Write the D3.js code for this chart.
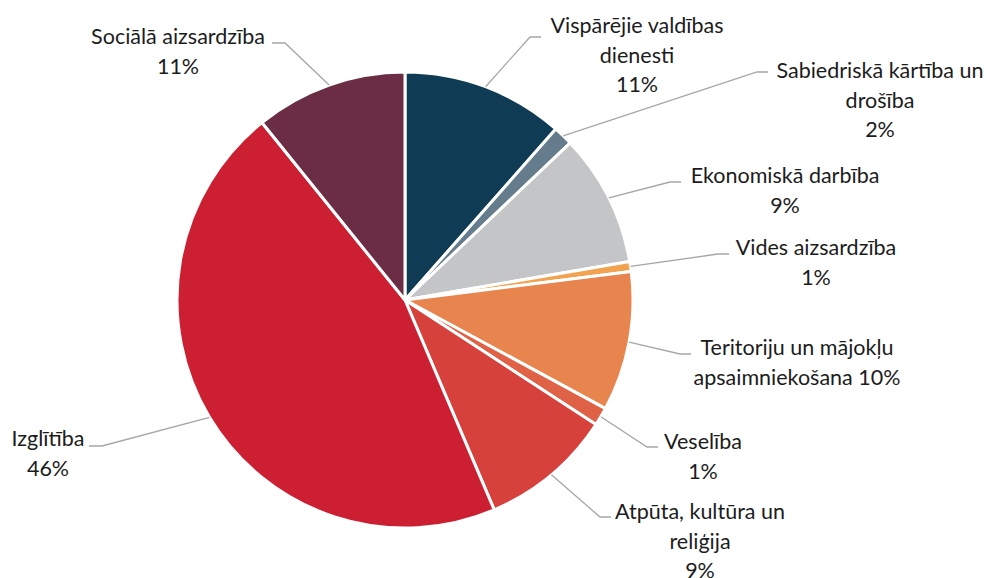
<!DOCTYPE html>
<html>
<head>
<meta charset="utf-8">
<script src="https://cdn.jsdelivr.net/npm/d3@7"></script>
<style>
  body { margin: 0; background: #fff; }
  svg { display: block; }
  .lbl { font-family: Lato, "Open Sans", sans-serif; font-size: 21.5px; fill: #1c1c1c; }
</style>
</head>
<body>
<svg width="990" height="578"></svg>
<script>
// shares of spending by function (percent)
const categories = [
  "Vispārējie valdības dienesti",
  "Sabiedriskā kārtība un drošība",
  "Ekonomiskā darbība",
  "Vides aizsardzība",
  "Teritoriju un mājokļu apsaimniekošana",
  "Veselība",
  "Atpūta, kultūra un reliģija",
  "Izglītība",
  "Sociālā aizsardzība"
]
const values = [11.5, 1.4, 9.4, 0.7, 9.9, 1.3, 9.4, 45.6, 10.8]
const pctLabels = ["11%", "2%", "9%", "1%", "10%", "1%", "9%", "46%", "11%"]
// label text lines as they are broken in the chart
const labelLines = [
  ["Vispārējie valdības", "dienesti", "11%"],
  ["Sabiedriskā kārtība un", "drošība", "2%"],
  ["Ekonomiskā darbība", "9%"],
  ["Vides aizsardzība", "1%"],
  ["Teritoriju un mājokļu", "apsaimniekošana 10%"],
  ["Veselība", "1%"],
  ["Atpūta, kultūra un", "reliģija", "9%"],
  ["Izglītība", "46%"],
  ["Sociālā aizsardzība", "11%"]
]
const colors = ["#0f3b54", "#647c8b", "#c4c5c7", "#f2a34f", "#e8844e", "#e06246", "#d6423b", "#cc1f31", "#6b2d43"]

// layout: label centre x, first line y, elbow point, side of label
const labelLayout = [
  { x: 637, y: 25, ex: 530, ey: 37, side: "right" },
  { x: 880, y: 70, ex: 757, ey: 72, side: "right" },
  { x: 785, y: 175, ex: 670, ey: 182, side: "right" },
  { x: 816, y: 247, ex: 718, ey: 254, side: "right" },
  { x: 797, y: 347, ex: 680, ey: 354, side: "right" },
  { x: 703, y: 441, ex: 647, ey: 447, side: "right" },
  { x: 700, y: 511, ex: 600, ey: 517, side: "right" },
  { x: 48, y: 438, ex: 102, ey: 446, side: "left" },
  { x: 178, y: 36, ex: 285, ey: 43, side: "left" }
]

const cx = 405, cy = 300, r = 228
const lineH = 29.5

const svg = d3.select("svg")
const g = svg.append("g").attr("transform", `translate(${cx},${cy})`)

const data = categories.map((c, i) => ({ name: c, value: values[i], i: i }))

const pie = d3.pie().value(d => d.value).sort(null)
const arc = d3.arc().innerRadius(0).outerRadius(r)
const arcs = pie(data)

g.selectAll("path.slice")
  .data(arcs)
  .enter()
  .append("path")
  .attr("class", "slice")
  .attr("d", arc)
  .attr("fill", d => colors[d.data.i])
  .attr("stroke", "#fff")
  .attr("stroke-width", 3)
  .attr("stroke-linejoin", "round")

// leader lines, from the slice edge to an elbow and a short horizontal
const lineArc = d3.arc().innerRadius(r).outerRadius(r)
svg.append("g").selectAll("polyline")
  .data(arcs)
  .enter()
  .append("polyline")
  .attr("fill", "none")
  .attr("stroke", "#a6a6a6")
  .attr("stroke-width", 1.3)
  .attr("points", d => {
    const L = labelLayout[d.data.i]
    const p = lineArc.centroid(d)
    const hx = L.side === "right" ? L.ex + 11 : L.ex - 13
    return [[cx + p[0], cy + p[1]], [L.ex, L.ey], [hx, L.ey]].map(q => q.join(",")).join(" ")
  })

// labels
const labels = svg.append("g").selectAll("text")
  .data(arcs)
  .enter()
  .append("text")
  .attr("class", "lbl")
  .attr("text-anchor", "middle")
  .attr("dominant-baseline", "central")

labels.each(function(d) {
  const L = labelLayout[d.data.i]
  d3.select(this).selectAll("tspan")
    .data(labelLines[d.data.i])
    .enter()
    .append("tspan")
    .attr("x", L.x)
    .attr("y", (t, k) => L.y + k * lineH)
    .text(t => t)
})
</script>
</body>
</html>
